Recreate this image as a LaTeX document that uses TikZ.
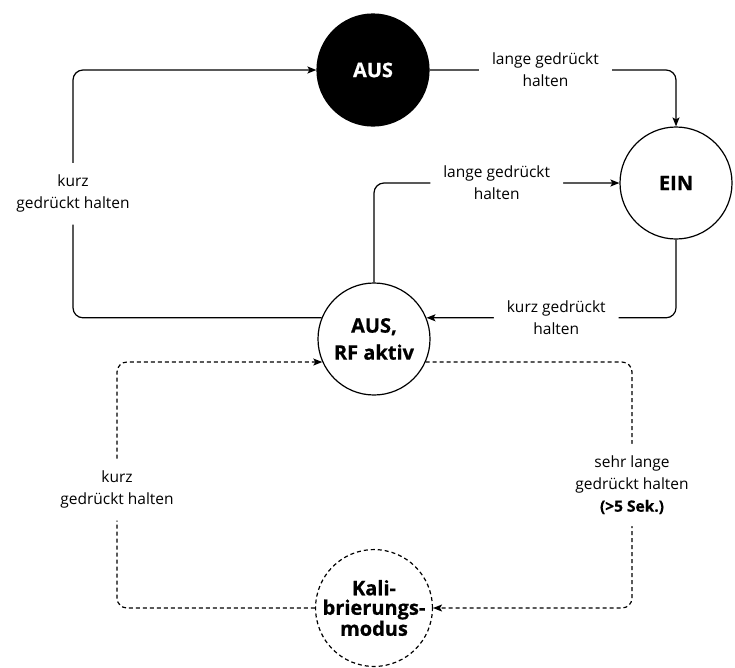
\documentclass[tikz,border=0pt]{standalone}
\usepackage{fontspec}
\setmainfont{Open Sans}[BoldFeatures={FakeBold=0.6}]
\usetikzlibrary{arrows.meta}

\tikzset{
  state/.style={draw, circle, line width=1.2pt, minimum size=112pt, inner sep=0pt, align=center, font=\fontsize{20}{27}\selectfont\bfseries},
  conn/.style={line width=1.2pt, rounded corners=10pt, -{Stealth[length=9pt, width=7pt, inset=2pt]}},
  dconn/.style={conn, dash pattern=on 4pt off 3pt},
  lbl/.style={fill=white, inner xsep=13pt, inner ysep=12pt, align=center, font=\fontsize{15.5}{22}\selectfont},
}

\begin{document}
\begin{tikzpicture}[x=1pt, y=-1pt]
  \useasboundingbox (0,0) rectangle (735,667);
  % states
  \node[state, fill=black, text=white] (aus) at (373,70) {AUS};
  \node[state] (ein) at (676,183) {EIN};
  \node[state] (rf) at (374,339) {AUS,\\RF aktiv};
  \node[state, dash pattern=on 4pt off 3pt, font=\fontsize{20}{19.5}\selectfont\bfseries] (kal) at (374,608) {Kali-\\brierungs-\\modus};
  \coordinate (kl) at (73,0);
  \coordinate (dl) at (117,0);
  \coordinate (dr) at (632,0);
  % transitions
  \draw[conn] (rf.158) -| node[lbl, pos=0.75] {kurz\\gedrückt halten} (kl |- aus.west) -- (aus.west);
  \draw[conn] (aus.east) -| node[lbl, pos=0.235] {lange gedrückt\\halten} (ein.north);
  \draw[conn] (rf.north) |- node[lbl, pos=0.75] {lange gedrückt\\halten} (ein.west);
  \draw[conn] (ein.south) |- node[lbl, pos=0.74] {kurz gedrückt\\halten} (rf.22);
  % calibration
  \draw[dconn] (kal.west) -| node[lbl, pos=0.74] {kurz\\gedrückt halten} (dl |- rf.204) -- (rf.204);
  \draw[dconn] (rf.336) -| node[lbl, pos=0.75] {sehr lange\\gedrückt halten\\\textbf{(>5 Sek.)}} (dr |- kal.east) -- (kal.east);
\end{tikzpicture}
\end{document}
